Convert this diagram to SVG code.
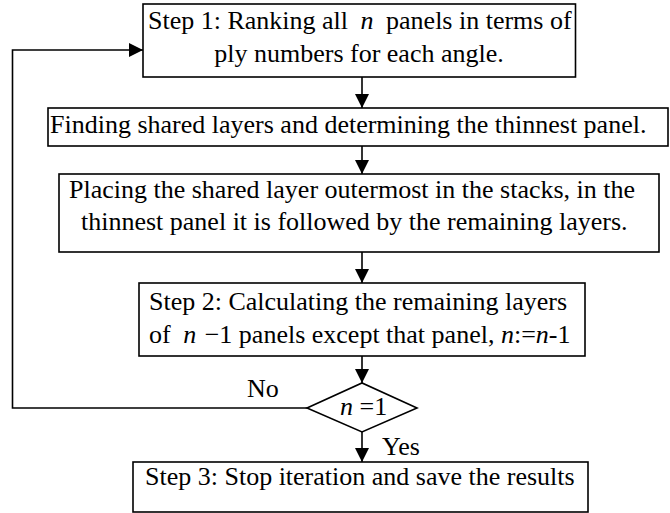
<svg xmlns="http://www.w3.org/2000/svg" width="670" height="513" viewBox="0 0 670 513">
<defs>
<marker id="ah" markerUnits="userSpaceOnUse" markerWidth="16" markerHeight="16" refX="14" refY="7" orient="auto">
<path d="M0,0 L14,7 L0,14 Z" fill="#000"/>
</marker>
<style>
.box{fill:#fff;stroke:#000;stroke-width:1.6}
.ln{fill:none;stroke:#000;stroke-width:1.6}
text{font-family:"Liberation Serif","Times New Roman",serif;font-size:26px;fill:#000}
.i{font-style:italic}
</style>
</defs>
<rect width="670" height="513" fill="#fff"/>
<g id="connectors">
<line class="ln" x1="362" y1="77" x2="362" y2="108" marker-end="url(#ah)"/>
<line class="ln" x1="362" y1="146" x2="362" y2="174" marker-end="url(#ah)"/>
<line class="ln" x1="362" y1="252" x2="362" y2="283" marker-end="url(#ah)"/>
<line class="ln" x1="362" y1="356" x2="362" y2="383" marker-end="url(#ah)"/>
<line class="ln" x1="362" y1="432" x2="362" y2="462" marker-end="url(#ah)"/>
<polyline class="ln" points="307,408 12.5,408 12.5,50 143,50" marker-end="url(#ah)"/>
<text x="247" y="397">No</text>
<text x="382" y="455">Yes</text>
</g>
<g id="step1">
<rect class="box" x="143" y="4" width="432.5" height="73"/>
<text x="148" y="29">Step 1: Ranking all <tspan class="i" dx="6">n</tspan><tspan dx="6"> panels in terms of</tspan></text>
<text x="359" y="62" text-anchor="middle">ply numbers for each angle.</text>
</g>
<g id="finding">
<rect class="box" x="48" y="108" width="620" height="38"/>
<text x="50" y="133">Finding shared layers and determining the thinnest panel.</text>
</g>
<g id="placing">
<rect class="box" x="59" y="174" width="600" height="78"/>
<text x="69" y="198">Placing the shared layer outermost in the stacks, in the</text>
<text x="81" y="230">thinnest panel it is followed by the remaining layers.</text>
</g>
<g id="step2">
<rect class="box" x="139" y="283" width="446" height="73"/>
<text x="149" y="310">Step 2: Calculating the remaining layers</text>
<text x="149" y="343">of <tspan class="i" dx="6">n</tspan><tspan dx="2"> −1 panels except that panel, </tspan><tspan class="i">n</tspan>:=<tspan class="i">n</tspan>-1</text>
</g>
<g id="decision">
<polygon class="box" points="307,408 362,383 417,408 362,432"/>
<text x="340" y="415"><tspan class="i">n</tspan> =1</text>
</g>
<g id="step3">
<rect class="box" x="133" y="462" width="455" height="50"/>
<text x="145" y="485">Step 3: Stop iteration and save the results</text>
</g>
</svg>
